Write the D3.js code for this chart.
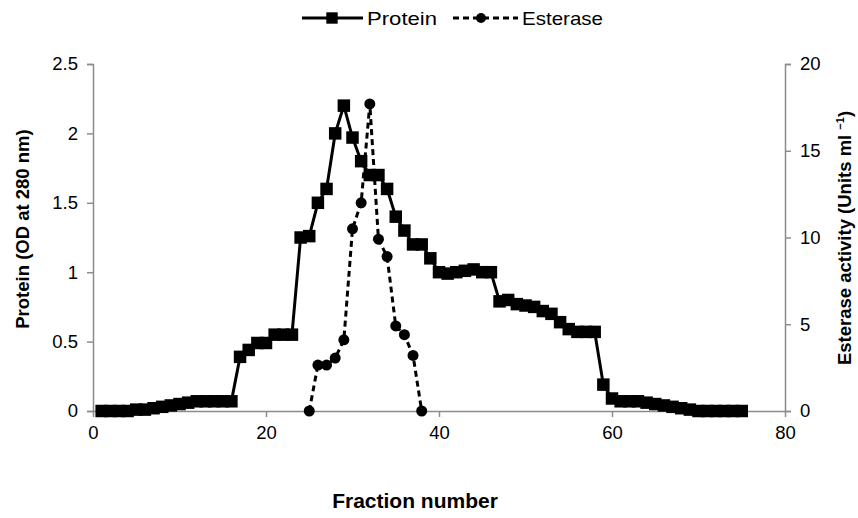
<!DOCTYPE html>
<html>
<head>
<meta charset="utf-8">
<script src="https://cdn.jsdelivr.net/npm/d3@7"></script>
<style>
  body { margin: 0; background: #fff; }
  svg text { font-family: "Liberation Sans", Arial, sans-serif; fill: #000; }
</style>
</head>
<body>
<svg id="chart" width="858" height="518"></svg>
<script>
// fraction numbers and readings taken off the figure
var proteinFractions = d3.range(1, 76);
var proteinOD = [
  0, 0, 0, 0, 0.01, 0.01, 0.02, 0.03, 0.04, 0.05,
  0.06, 0.07, 0.07, 0.07, 0.07, 0.07, 0.39, 0.44, 0.49, 0.49,
  0.55, 0.55, 0.55, 1.25, 1.26, 1.5, 1.6, 2.0, 2.2, 1.97,
  1.8, 1.7, 1.7, 1.6, 1.4, 1.3, 1.2, 1.2, 1.1, 1.0,
  0.99, 1.0, 1.01, 1.02, 1.0, 1.0, 0.79, 0.8, 0.77, 0.76,
  0.75, 0.72, 0.7, 0.64, 0.59, 0.57, 0.57, 0.57, 0.19, 0.09,
  0.07, 0.07, 0.07, 0.06, 0.05, 0.04, 0.03, 0.02, 0.01, 0,
  0, 0, 0, 0, 0
];
var esteraseFractions = d3.range(25, 39);
var esteraseActivity = [0, 2.65, 2.65, 3.05, 4.1, 10.5, 12.0, 17.7, 9.9, 8.9, 4.9, 4.4, 3.2, 0];

var xTicks = [0, 20, 40, 60, 80];
var leftTicks = [0, 0.5, 1, 1.5, 2, 2.5];
var rightTicks = [0, 5, 10, 15, 20];

var svg = d3.select("#chart");

var x = d3.scaleLinear().domain([0, 80]).range([93, 785]);
var yL = d3.scaleLinear().domain([0, 2.5]).range([411, 64]);
var yR = d3.scaleLinear().domain([0, 20]).range([411, 64]);

var axisColor = "#8c8c8c";

function styleAxis(g) {
  g.select(".domain").attr("stroke", axisColor).attr("stroke-width", 1.5);
  g.selectAll(".tick line").attr("stroke", axisColor).attr("stroke-width", 1.5);
  g.selectAll(".tick text").attr("font-size", 18.5).attr("fill", "#000");
}

svg.append("g")
  .attr("transform", "translate(0," + yL(0) + ")")
  .call(d3.axisBottom(x).tickValues(xTicks).tickSize(6).tickPadding(9).tickSizeOuter(0))
  .call(styleAxis);

svg.append("g")
  .attr("transform", "translate(" + x(0) + ",0)")
  .call(d3.axisLeft(yL).tickValues(leftTicks).tickSize(6).tickPadding(9)
    .tickFormat(function(d) { return d; }))
  .call(styleAxis);

svg.append("g")
  .attr("transform", "translate(" + x(80) + ",0)")
  .call(d3.axisRight(yR).tickValues(rightTicks).tickSize(6).tickPadding(9))
  .call(styleAxis);

var protein = proteinFractions.map(function(f, i) { return [f, proteinOD[i]]; });
var esterase = esteraseFractions.map(function(f, i) { return [f, esteraseActivity[i]]; });

// protein curve
svg.append("path")
  .datum(protein)
  .attr("fill", "none")
  .attr("stroke", "#000")
  .attr("stroke-width", 3)
  .attr("d", d3.line().x(function(d) { return x(d[0]); }).y(function(d) { return yL(d[1]); }));

svg.append("g").selectAll("path")
  .data(protein)
  .join("path")
  .attr("transform", function(d) { return "translate(" + x(d[0]) + "," + yL(d[1]) + ")"; })
  .attr("d", d3.symbol(d3.symbolSquare, 156))
  .attr("fill", "#000");

// esterase curve
svg.append("path")
  .datum(esterase)
  .attr("fill", "none")
  .attr("stroke", "#000")
  .attr("stroke-width", 3)
  .attr("stroke-dasharray", "6,4")
  .attr("d", d3.line().x(function(d) { return x(d[0]); }).y(function(d) { return yR(d[1]); }));

svg.append("g").selectAll("circle")
  .data(esterase)
  .join("circle")
  .attr("cx", function(d) { return x(d[0]); })
  .attr("cy", function(d) { return yR(d[1]); })
  .attr("r", 5.5)
  .attr("fill", "#000");

// axis titles
svg.append("text")
  .attr("transform", "translate(29,229) rotate(-90)")
  .attr("text-anchor", "middle")
  .attr("font-size", 18.5)
  .attr("font-weight", "bold")
  .text("Protein (OD at 280 nm)");

var rt = svg.append("text")
  .attr("transform", "translate(851,238) rotate(-90)")
  .attr("text-anchor", "middle")
  .attr("font-size", 18.5)
  .attr("font-weight", "bold");
rt.append("tspan").text("Esterase activity (Units ml ");
rt.append("tspan").attr("font-size", 11).attr("dy", -7).text("\u22121");
rt.append("tspan").attr("dy", 7).text(")");

svg.append("text")
  .attr("x", 415)
  .attr("y", 508)
  .attr("text-anchor", "middle")
  .attr("font-size", 21)
  .attr("font-weight", "bold")
  .text("Fraction number");

// legend
var legend = svg.append("g");
legend.append("line").attr("x1", 302).attr("x2", 363).attr("y1", 18).attr("y2", 18)
  .attr("stroke", "#000").attr("stroke-width", 3);
legend.append("path").attr("transform", "translate(332,18)")
  .attr("d", d3.symbol(d3.symbolSquare, 130)).attr("fill", "#000");
legend.append("text").attr("x", 367).attr("y", 25).attr("font-size", 19)
  .attr("textLength", 70).attr("lengthAdjust", "spacingAndGlyphs").text("Protein");

legend.append("line").attr("x1", 453).attr("x2", 518).attr("y1", 18).attr("y2", 18)
  .attr("stroke", "#000").attr("stroke-width", 3).attr("stroke-dasharray", "6,4");
legend.append("circle").attr("cx", 481).attr("cy", 18).attr("r", 5).attr("fill", "#000");
legend.append("text").attr("x", 522).attr("y", 25).attr("font-size", 19)
  .attr("textLength", 81).attr("lengthAdjust", "spacingAndGlyphs").text("Esterase");
</script>
</body>
</html>
